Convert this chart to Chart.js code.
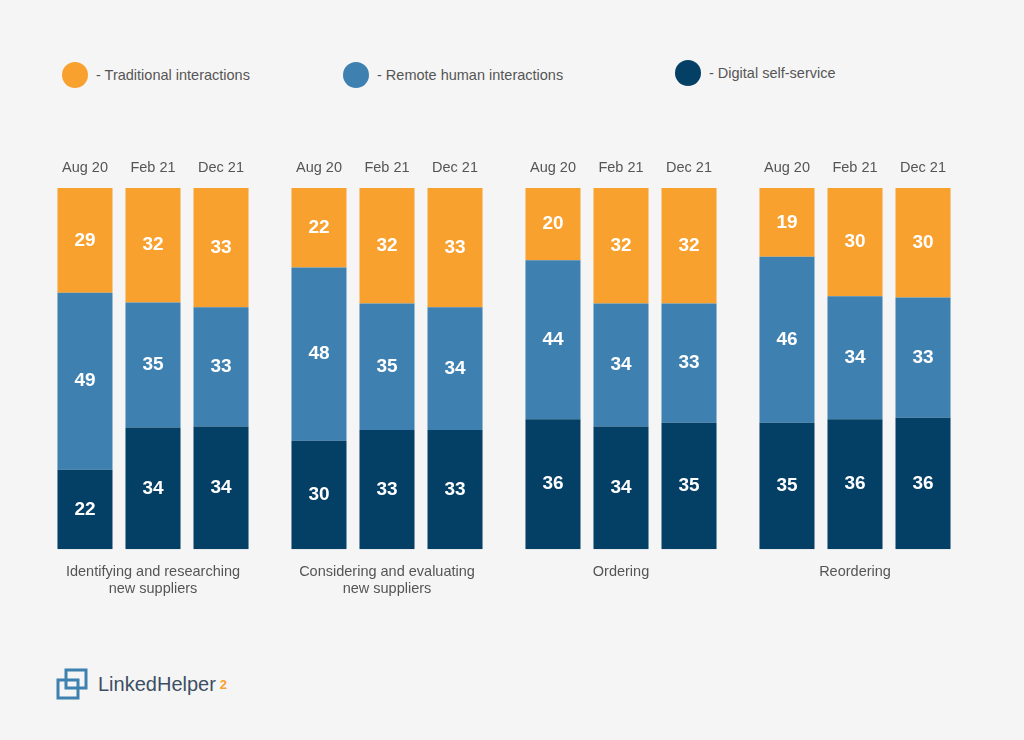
<!DOCTYPE html>
<html><head><meta charset="utf-8">
<script src="https://cdn.jsdelivr.net/npm/chart.js@4"></script>
<style>
body{margin:0;background:#f5f5f5;font-family:Arial,"Liberation Sans",sans-serif;}
#wrap{position:absolute;left:0;top:140px;width:1024px;height:464px;}
.lg{position:absolute;top:62px;font-size:14.5px;color:#555;display:flex;align-items:center;}
.lg i{display:inline-block;width:26px;height:26px;border-radius:50%;margin-right:8px;}
#logo{position:absolute;left:56px;top:668px;font-size:20px;color:#3d4f63;display:flex;align-items:center;}
</style></head><body>
<div class="lg" style="left:62px"><i style="background:#F9A12E"></i>- Traditional interactions</div>
<div class="lg" style="left:343px"><i style="background:#3E81B0"></i>- Remote human interactions</div>
<div class="lg" style="left:675px;top:60px"><i style="background:#043F66"></i>- Digital self-service</div>
<div id="logo"><svg width="34" height="32" viewBox="0 0 34 32"><rect x="10" y="2" width="20" height="18" fill="none" stroke="#3E81B0" stroke-width="3"/><rect x="2" y="12" width="20" height="18" fill="none" stroke="#3E81B0" stroke-width="3"/></svg><span style="margin-left:8px">LinkedHelper</span><sup style="color:#F9A12E;font-weight:bold;font-size:13px;margin-left:4px">2</sup></div>
<div id="wrap"><canvas id="c"></canvas></div>
<script>
const groups=[["Identifying and researching","new suppliers"],["Considering and evaluating","new suppliers"],["Ordering"],["Reordering"]];
const periods=["Aug 20","Feb 21","Dec 21"];
// [period][group]
const traditional=[[29,22,20,19],[32,32,32,30],[33,33,32,30]];
const remote=[[49,48,44,46],[35,35,34,34],[33,34,33,33]];
const digital=[[22,30,36,35],[34,33,34,36],[34,33,35,36]];
const colors={digital:"#043F66",remote:"#3E81B0",traditional:"#F9A12E"};
const datasets=[];
periods.forEach((p,i)=>{
  const tot=digital[i].map((d,j)=>d+remote[i][j]+traditional[i][j]);
  const norm=a=>a.map((v,j)=>v*100/tot[j]);
  datasets.push({label:p+" digital",data:norm(digital[i]),raw:digital[i],backgroundColor:colors.digital,stack:p,period:p});
  datasets.push({label:p+" remote",data:norm(remote[i]),raw:remote[i],backgroundColor:colors.remote,stack:p,period:p});
  datasets.push({label:p+" traditional",data:norm(traditional[i]),raw:traditional[i],backgroundColor:colors.traditional,stack:p,period:p,top:true});
});
const lbl={id:"lbl",afterDatasetsDraw(ch){
  const c=ch.ctx;c.save();c.textAlign="center";c.textBaseline="middle";
  ch.data.datasets.forEach((ds,di)=>{
    ch.getDatasetMeta(di).data.forEach((el,j)=>{
      c.fillStyle="#fff";c.font="bold 19px Arial";
      c.fillText(ds.raw[j],el.x,(el.y+el.base)/2);
      if(ds.top){c.fillStyle="#555";c.font="14.5px Arial";c.fillText(ds.period,el.x,el.y-20);}
    });
  });c.restore();}};
new Chart(document.getElementById("c"),{type:"bar",
 data:{labels:groups,datasets},
 options:{responsive:true,maintainAspectRatio:false,animation:false,
  layout:{padding:{top:48,left:36,right:52}},
  categoryPercentage:0.872,barPercentage:0.809,
  plugins:{legend:{display:false},tooltip:{enabled:false}},
  scales:{x:{stacked:true,grid:{display:false},border:{display:false},ticks:{color:"#555",font:{size:14.5,family:"Arial"},padding:6}},
   y:{stacked:true,display:false,min:0,max:100}}},
 plugins:[lbl]});
</script></body></html>
